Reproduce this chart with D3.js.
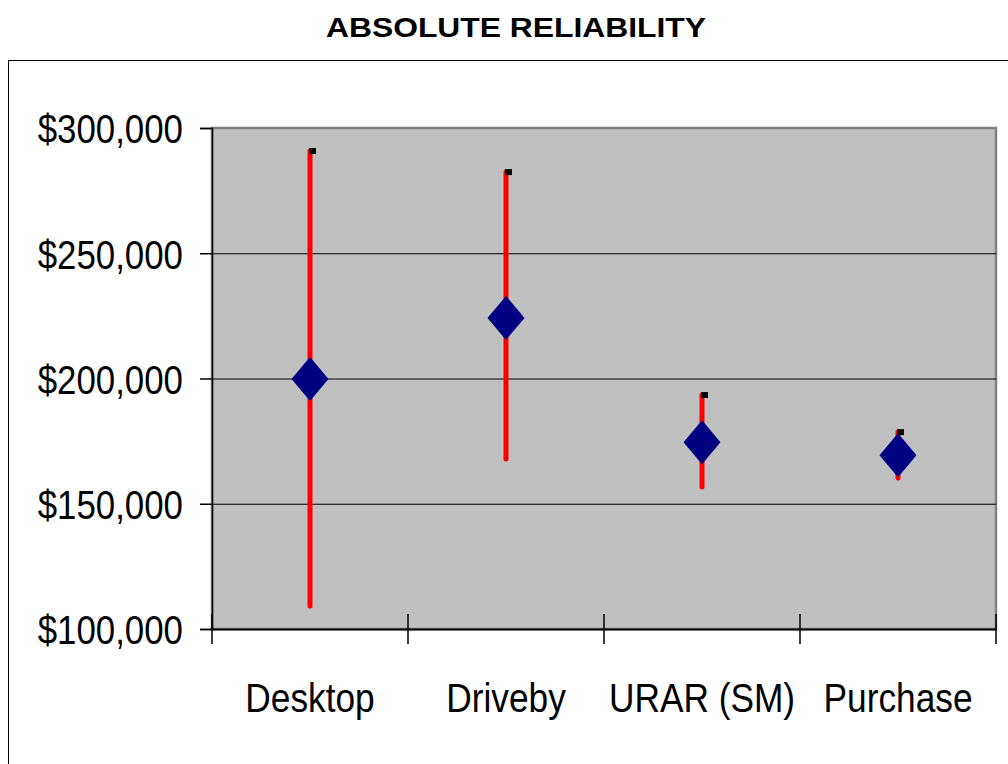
<!DOCTYPE html>
<html><head><meta charset="utf-8">
<script src="https://cdn.jsdelivr.net/npm/d3@7"></script>
<style>body{margin:0;background:#fff}svg{display:block}</style>
</head><body>
<script>
const categories = ["Desktop", "Driveby", "URAR (SM)", "Purchase"];
const highs = [290800, 282400, 193400, 178600];
const lows = [109200, 167900, 156700, 160300];
const means = [199800, 224200, 174600, 169400];
const yTicks = [100000, 150000, 200000, 250000, 300000];
const title = "ABSOLUTE RELIABILITY";

const W = 1008, H = 764;
const svg = d3.select("body").append("svg").attr("width", W).attr("height", H);

// narrow-font emulation: compress text horizontally
function condense(sel, factor) {
  sel.each(function () {
    const len = this.getComputedTextLength();
    d3.select(this).attr("textLength", len * factor).attr("lengthAdjust", "spacingAndGlyphs");
  });
}

// outer chart border
svg.append("rect").attr("x", 8.5).attr("y", 60.5).attr("width", 1010).attr("height", 720)
  .attr("fill", "none").attr("stroke", "#000").attr("stroke-width", 1);

const t = svg.append("text").attr("x", 516).attr("y", 37).attr("text-anchor", "middle")
  .attr("font-family", "Liberation Sans, Arial, sans-serif").attr("font-weight", "bold")
  .attr("font-size", 27.5).text(title);
t.attr("textLength", 380).attr("lengthAdjust", "spacingAndGlyphs");

const plot = {l: 212, r: 996, t: 128, b: 629};
const x = d3.scaleBand().domain(categories).range([plot.l, plot.r]);
const y = d3.scaleLinear().domain([100000, 300000]).range([plot.b, plot.t]);

svg.append("rect").attr("x", plot.l).attr("y", plot.t).attr("width", plot.r - plot.l).attr("height", plot.b - plot.t)
  .attr("fill", "#c0c0c0").attr("stroke", "#808080").attr("stroke-width", 2.5);

// gridlines
svg.append("g").selectAll("line").data(yTicks.filter(d => d > 100000 && d < 300000)).join("line")
  .attr("x1", plot.l).attr("x2", plot.r).attr("y1", d => y(d) + 0.5).attr("y2", d => y(d) + 0.5)
  .attr("stroke", "#000").attr("stroke-width", 1);

// y axis
const yAxis = d3.axisLeft(y).tickValues(yTicks).tickSize(12).tickPadding(17)
  .tickFormat(d => "$" + d3.format(",")(d));
const gy = svg.append("g").attr("transform", `translate(${plot.l},0)`).call(yAxis);
gy.select(".domain").attr("stroke", "#000").attr("stroke-width", 1.5);
gy.selectAll(".tick line").attr("stroke", "#000").attr("stroke-width", 1.5);
gy.selectAll(".tick text").attr("font-family", "Liberation Sans, Arial, sans-serif")
  .attr("font-size", 41).attr("fill", "#000").attr("dy", "0.36em");
condense(gy.selectAll(".tick text"), 0.85);

// x axis
const xAxis = d3.axisBottom(x).tickSize(0).tickPadding(54);
const gx = svg.append("g").attr("transform", `translate(0,${plot.b})`).call(xAxis);
gx.select(".domain").attr("stroke", "#000").attr("stroke-width", 2);
gx.selectAll(".tick text").attr("font-family", "Liberation Sans, Arial, sans-serif")
  .attr("font-size", 41).attr("fill", "#000");
condense(gx.selectAll(".tick text"), 0.86);
// category boundary ticks
const bounds = categories.map(c => x(c)).concat([x(categories[categories.length - 1]) + x.bandwidth()]);
svg.append("g").selectAll("line").data(bounds).join("line")
  .attr("x1", d => d).attr("x2", d => d).attr("y1", plot.b - 15).attr("y2", plot.b + 15)
  .attr("stroke", "#000").attr("stroke-width", 1.5);

const cx = c => x(c) + x.bandwidth() / 2;
// high-low lines
svg.append("g").selectAll("line").data(categories).join("line")
  .attr("x1", cx).attr("x2", cx)
  .attr("y1", (c, i) => y(highs[i])).attr("y2", (c, i) => y(lows[i]))
  .attr("stroke", "#ff0000").attr("stroke-width", 5).attr("stroke-linecap", "round");
// high markers
svg.append("g").selectAll("rect").data(categories).join("rect")
  .attr("x", c => cx(c) - 1).attr("y", (c, i) => y(highs[i]) - 3)
  .attr("width", 7).attr("height", 6).attr("fill", "#000");
// mean diamonds
svg.append("g").selectAll("path").data(categories).join("path")
  .attr("transform", (c, i) => `translate(${cx(c)},${y(means[i])})`)
  .attr("d", "M0,-22L18.5,0L0,22L-18.5,0Z").attr("fill", "#000080");
</script>
</body></html>
